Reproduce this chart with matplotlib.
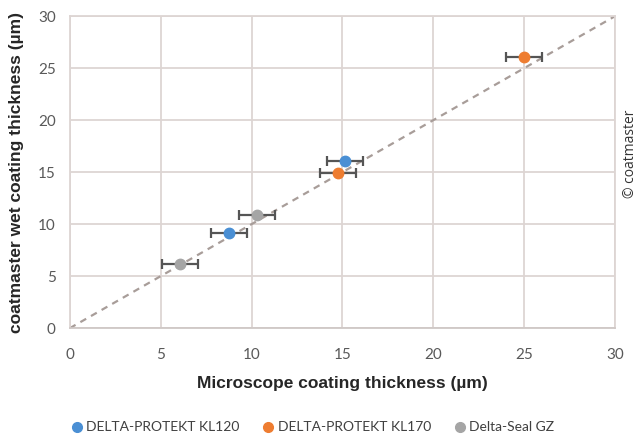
import matplotlib
matplotlib.use("Agg")
import matplotlib.pyplot as plt
import numpy as np

# Werte
series_names = ["DELTA-PROTEKT KL120", "DELTA-PROTEKT KL170", "Delta-Seal GZ"]
series_colors = ["#4a8fd4", "#ee7d31", "#a5a5a5"]
micro_kl120 = [15.15, 8.75]
wet_kl120 = [16.05, 9.2]
micro_kl170 = [25.0, 14.75]
wet_kl170 = [26.1, 14.9]
micro_gz = [10.3, 6.05]
wet_gz = [10.9, 6.15]
x_err = 1.0

xs = [micro_kl120, micro_kl170, micro_gz]
ys = [wet_kl120, wet_kl170, wet_gz]

fig = plt.figure(figsize=(6.4, 4.37), dpi=100)
ax = fig.add_axes([0.109, 0.249, 0.852, 0.714])

# Diagonale 1:1
ax.plot([0, 30], [0, 30], linestyle=(0, (3, 2.5)), color="#a89d99", linewidth=1.6, zorder=2)

for name, col, x, y in zip(series_names, series_colors, xs, ys):
    ax.errorbar(x, y, xerr=x_err, fmt="o", color=col, markersize=7.5,
                ecolor="#555555", elinewidth=1.6, capsize=3.5, capthick=1.6,
                label=name, zorder=3)

ax.set_xlim(0, 30)
ax.set_ylim(0, 30)
ax.set_xticks(np.arange(0, 31, 5))
ax.set_yticks(np.arange(0, 31, 5))
ax.grid(True, color="#ddd5d3", linewidth=1.3)
ax.set_axisbelow(True)
for s in ax.spines.values():
    s.set_color("#ddd5d3")
    s.set_linewidth(1.3)
ax.spines["bottom"].set_color("#cfc8c6")
ax.tick_params(axis="x", length=0, pad=14, labelsize=11, labelcolor="#595959")
ax.tick_params(axis="y", length=0, pad=10, labelsize=11, labelcolor="#595959")
for lab in ax.get_xticklabels() + ax.get_yticklabels():
    lab.set_family("Lato")

ax.set_xlabel("Microscope coating thickness (µm)", fontsize=12.5, fontweight="bold",
              family="Liberation Sans", color="#262626", labelpad=10)
ax.set_ylabel("coatmaster wet coating thickness (µm)", fontsize=12.5, fontweight="bold",
              family="Liberation Sans", color="#262626", labelpad=10)

labels = series_names
handles = [plt.Line2D([], [], marker="o", linestyle="", color=c, markersize=7) for c in series_colors]
fig.legend(handles, labels, loc="center", bbox_to_anchor=(0.488, 0.022), ncol=3, frameon=False,
           handlelength=0.9, handletextpad=0.25, columnspacing=1.6,
           prop={"family": "Lato", "size": 10}, labelcolor="#404040")

fig.text(0.985, 0.648, "© coatmaster", rotation=90, ha="center", va="center",
         fontsize=10, family="Open Sans", color="#333333")

fig.savefig("out.png", dpi=100)
